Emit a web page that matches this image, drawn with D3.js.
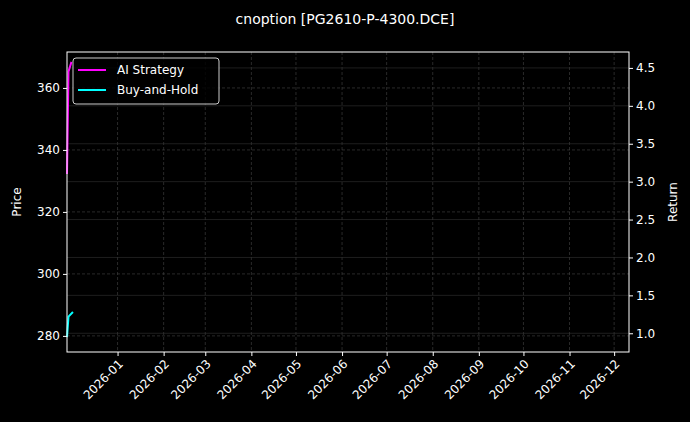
<!DOCTYPE html>
<html><head><meta charset="utf-8">
<script src="https://cdn.jsdelivr.net/npm/d3@7"></script>
<style>body{margin:0;background:#000}svg text{font-family:"DejaVu Sans",sans-serif}</style>
</head><body><svg width="690" height="422"></svg>
<script>
var dates = ["2025-11-28", "2025-11-29", "2025-12-01"];
var strategyReturn = [3.1, 4.45, 4.58];
var holdDates = ["2025-11-28", "2025-11-29", "2025-12-02"];
var holdReturn = [0.95, 1.22, 1.28];
var priceTicks = [280, 300, 320, 340, 360];
var returnTicks = [1.0, 1.5, 2.0, 2.5, 3.0, 3.5, 4.0, 4.5];
var monthTicks = ["2026-01","2026-02","2026-03","2026-04","2026-05","2026-06","2026-07","2026-08","2026-09","2026-10","2026-11","2026-12"];

function main() {
    var svg = d3.select("svg");
    var pl = 67, pr = 629, pt = 52, pb = 352;
    var parse = d3.timeParse("%Y-%m-%d");
    var fmt = d3.timeFormat("%Y-%m");

    var x = d3.scaleTime().domain([parse("2025-11-28"), parse("2026-12-11")]).range([pl, pr]);
    var yP = d3.scaleLinear().domain([274.8, 371.6]).range([pb, pt]);
    var yR = d3.scaleLinear().domain([0.753, 4.71]).range([pb, pt]);

    // grids
    var g = svg.append("g");
    g.selectAll(".gx").data(monthTicks).enter().append("line")
        .attr("x1", d => x(parse(d + "-01"))).attr("x2", d => x(parse(d + "-01")))
        .attr("y1", pt).attr("y2", pb)
        .style("stroke", "#444").style("stroke-dasharray", "3,2").style("stroke-width", 0.6);
    g.selectAll(".gp").data(priceTicks).enter().append("line")
        .attr("x1", pl).attr("x2", pr).attr("y1", d => yP(d)).attr("y2", d => yP(d))
        .style("stroke", "#444").style("stroke-dasharray", "3,2").style("stroke-width", 0.6);
    g.selectAll(".gr").data(returnTicks).enter().append("line")
        .attr("x1", pl).attr("x2", pr).attr("y1", d => yR(d)).attr("y2", d => yR(d))
        .style("stroke", "#333").style("stroke-width", 0.6);

    // lines
    var line1 = d3.line().x((d, i) => x(parse(dates[i]))).y(d => yR(d));
    svg.append("path").attr("d", line1(strategyReturn))
        .style("fill", "none").style("stroke", "#ff00ff").style("stroke-width", 2);
    var line2 = d3.line().x((d, i) => x(parse(holdDates[i]))).y(d => yR(d));
    svg.append("path").attr("d", line2(holdReturn))
        .style("fill", "none").style("stroke", "#00ffff").style("stroke-width", 2);

    // frame
    svg.append("rect").attr("x", pl).attr("y", pt).attr("width", pr - pl).attr("height", pb - pt)
        .style("fill", "none").style("stroke", "#fff").style("stroke-width", 1);

    // axes
    var ax = svg.append("g").attr("transform", "translate(0," + pb + ")")
        .call(d3.axisBottom(x).tickValues(monthTicks.map(d => parse(d + "-01"))).tickFormat(fmt).tickSize(4).tickSizeOuter(0));
    ax.selectAll("text").attr("transform", "rotate(-45)").style("text-anchor", "end")
        .attr("dx", "-0.4em").attr("dy", "0.5em");
    var ay = svg.append("g").attr("transform", "translate(" + pl + ",0)")
        .call(d3.axisLeft(yP).tickValues(priceTicks).tickSize(4).tickSizeOuter(0));
    var ar = svg.append("g").attr("transform", "translate(" + pr + ",0)")
        .call(d3.axisRight(yR).tickValues(returnTicks).tickFormat(d3.format(".1f")).tickSize(4).tickSizeOuter(0));
    [ax, ay, ar].forEach(function (a) {
        a.select(".domain").remove();
        a.selectAll("line").style("stroke", "#fff");
        a.selectAll("text").style("fill", "#fff").style("font-size", "12px");
    });

    svg.append("text").attr("x", 345).attr("y", 24).attr("text-anchor", "middle")
        .style("fill", "#fff").style("font-size", "14px").text("cnoption [PG2610-P-4300.DCE]");
    svg.append("text").attr("transform", "translate(21," + (pt + pb) / 2 + ") rotate(-90)")
        .attr("text-anchor", "middle").style("fill", "#fff").style("font-size", "12px").text("Price");
    svg.append("text").attr("transform", "translate(677," + (pt + pb) / 2 + ") rotate(-90)")
        .attr("text-anchor", "middle").style("fill", "#fff").style("font-size", "12px").text("Return");

    // legend
    var lg = svg.append("g").attr("transform", "translate(73,58)");
    lg.append("rect").attr("width", 146).attr("height", 46).attr("rx", 3)
        .style("fill", "#000").style("fill-opacity", 0.8).style("stroke", "#ccc");
    var items = [["AI Strategy", "#ff00ff"], ["Buy-and-Hold", "#00ffff"]];
    items.forEach(function (it, i) {
        lg.append("line").attr("x1", 5).attr("x2", 33).attr("y1", 12 + i * 20).attr("y2", 12 + i * 20)
            .style("stroke", it[1]).style("stroke-width", 2);
        lg.append("text").attr("x", 44).attr("y", 16 + i * 20).style("fill", "#fff").style("font-size", "12px").text(it[0]);
    });
}
main();
</script></body></html>
